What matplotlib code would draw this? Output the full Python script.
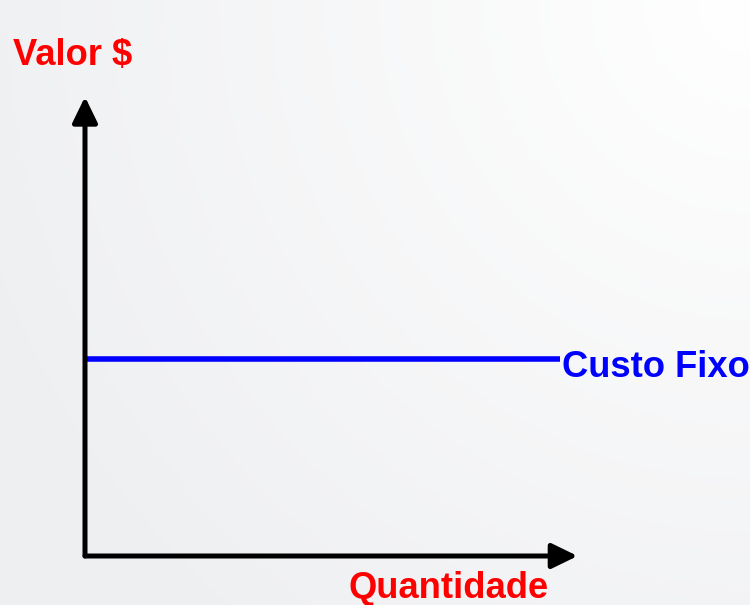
import numpy as np
import matplotlib
matplotlib.use("Agg")
import matplotlib.pyplot as plt

# schematic data: fixed cost stays flat whatever the quantity
quantidade = [0, 10]
custo_fixo = [4.32, 4.32]
x_max = 10.37   # where the quantity arrow ends
y_max = 10.07   # where the value arrow ends

label_y = "Valor $"
label_x = "Quantidade"
label_line = "Custo Fixo"

W, H = 750, 605
FONT = ["Liberation Sans", "DejaVu Sans"]
FS = 26.2

fig = plt.figure(figsize=(W / 100, H / 100), dpi=100)

# light background, whiter towards the top right corner
bg = fig.add_axes([0, 0, 1, 1], zorder=-1)
yy, xx = np.mgrid[0:H, 0:W]
dist = np.hypot(xx - W, yy) / 850.0
t = np.clip(dist, 0, 1)
top = np.array([1.0, 1.0, 1.0])
low = np.array([0xee, 0xef, 0xf1]) / 255.0
img = top[None, None, :] * (1 - t[..., None]) + low[None, None, :] * t[..., None]
bg.imshow(img, aspect="auto", extent=[0, W, H, 0])
bg.set_axis_off()

ax = fig.add_axes([85 / W, (H - 556) / H, (560 - 85) / W, (556 - 100) / H])
ax.set_xlim(0, 10)
ax.set_ylim(0, 10)
ax.set_axis_off()
ax.patch.set_alpha(0)

arrow = dict(arrowstyle="-|>,head_length=0.78,head_width=0.38",
             mutation_scale=20, lw=3.6, color="black",
             shrinkA=0, shrinkB=0)
ax.annotate("", xy=(0, y_max), xytext=(0, 0), arrowprops=arrow,
            annotation_clip=False)
ax.annotate("", xy=(x_max, 0), xytext=(0, 0), arrowprops=arrow,
            annotation_clip=False)

ax.plot(quantidade, custo_fixo, color="#0000ff", lw=4, solid_capstyle="butt",
        clip_on=False)
ax.annotate(label_line, xy=(quantidade[-1], custo_fixo[-1]), xytext=(2, -18),
            textcoords="offset pixels", ha="left", va="baseline",
            color="#0000ff", fontsize=FS, fontweight="bold", family=FONT,
            annotation_clip=False)

fig.text(13 / W, 1 - 65 / H, label_y, color="#ff0000", fontsize=FS,
         fontweight="bold", family=FONT, ha="left", va="baseline")
fig.text(349 / W, 1 - 598 / H, label_x, color="#ff0000", fontsize=FS,
         fontweight="bold", family=FONT, ha="left", va="baseline")

fig.savefig("out.png", dpi=100)
